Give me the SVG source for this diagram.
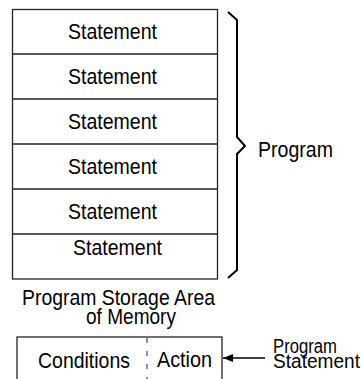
<svg xmlns="http://www.w3.org/2000/svg" width="361" height="379" viewBox="0 0 361 379">
<defs>
<style>
text{font-family:"Liberation Sans",Arial,sans-serif;font-size:22px;fill:#000}
.sm{font-size:20px}
.ln{stroke:#222;stroke-width:1.3;fill:none}
.br{stroke:#000;stroke-width:2;fill:none;stroke-linejoin:miter}
</style>
<marker id="ah" viewBox="0 0 10 8" refX="10" refY="4" markerWidth="10" markerHeight="8" markerUnits="userSpaceOnUse" orient="auto"><path d="M0,0 L10,4 L0,8 Z" fill="#000"/></marker>
</defs>
<g id="memory">
<rect class="ln" x="12.5" y="9.5" width="205" height="269.5"/>
<line class="ln" x1="12.5" y1="54" x2="217.5" y2="54"/>
<line class="ln" x1="12.5" y1="99" x2="217.5" y2="99"/>
<line class="ln" x1="12.5" y1="144" x2="217.5" y2="144"/>
<line class="ln" x1="12.5" y1="189" x2="217.5" y2="189"/>
<line class="ln" x1="12.5" y1="234" x2="217.5" y2="234"/>
</g>
<g id="stmt1"><text x="68" y="39" textLength="89" lengthAdjust="spacingAndGlyphs">Statement</text></g>
<g id="stmt2"><text x="68" y="84" textLength="89" lengthAdjust="spacingAndGlyphs">Statement</text></g>
<g id="stmt3"><text x="68" y="129" textLength="89" lengthAdjust="spacingAndGlyphs">Statement</text></g>
<g id="stmt4"><text x="68" y="174" textLength="89" lengthAdjust="spacingAndGlyphs">Statement</text></g>
<g id="stmt5"><text x="68" y="219" textLength="89" lengthAdjust="spacingAndGlyphs">Statement</text></g>
<g id="stmt6"><text x="73" y="255" textLength="89" lengthAdjust="spacingAndGlyphs">Statement</text></g>
<g id="brace">
<path class="br" d="M228,12 L237,20 L237,137 L245,146 L237,154 L237,270 L228,278"/>
<text x="258" y="157" textLength="75" lengthAdjust="spacingAndGlyphs">Program</text>
</g>
<g id="caption">
<text x="22" y="305" textLength="193" lengthAdjust="spacingAndGlyphs">Program Storage Area</text>
<text x="86" y="324" textLength="90" lengthAdjust="spacingAndGlyphs">of Memory</text>
</g>
<g id="statement-box">
<rect class="ln" x="17" y="337" width="205" height="60"/>
<line x1="147" y1="338" x2="147" y2="379" stroke="#222" stroke-width="1" stroke-dasharray="5 8"/>
<text x="38" y="368" textLength="92" lengthAdjust="spacingAndGlyphs">Conditions</text>
<text x="157" y="367" textLength="55" lengthAdjust="spacingAndGlyphs">Action</text>
</g>
<g id="connectors">
<line x1="265" y1="358" x2="223" y2="358" stroke="#000" stroke-width="1.3" marker-end="url(#ah)"/>
</g>
<g id="label-program-statement">
<text class="sm" x="273" y="353" textLength="64" lengthAdjust="spacingAndGlyphs">Program</text>
<text class="sm" x="273" y="368" textLength="87" lengthAdjust="spacingAndGlyphs">Statement</text>
</g>
</svg>
